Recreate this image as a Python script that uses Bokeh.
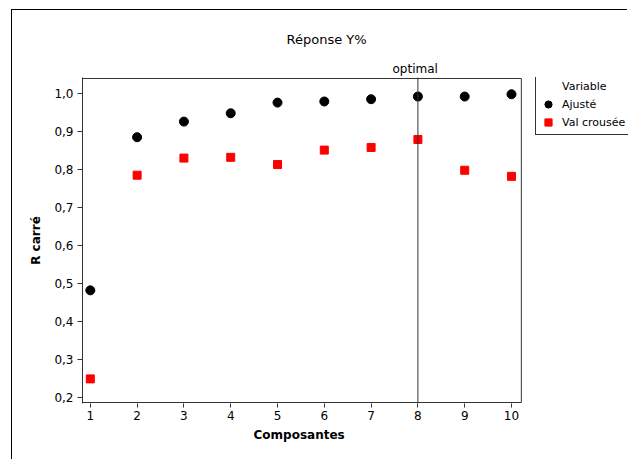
from bokeh.plotting import figure
from bokeh.models import (Range1d, Span, Legend, LegendItem, FixedTicker, Title,
                          BoxAnnotation)
from bokeh.embed import file_html
from bokeh.resources import INLINE

# ---- data ----
composantes = [1, 2, 3, 4, 5, 6, 7, 8, 9, 10]
ajuste = [0.482, 0.885, 0.926, 0.948, 0.976, 0.979, 0.985, 0.992, 0.992, 0.998]
val_croisee = [0.249, 0.785, 0.830, 0.832, 0.813, 0.851, 0.858, 0.879, 0.798, 0.782]
optimal_k = 8
y_ticks = [0.2, 0.3, 0.4, 0.5, 0.6, 0.7, 0.8, 0.9, 1.0]
y_tick_labels = ["0,2", "0,3", "0,4", "0,5", "0,6", "0,7", "0,8", "0,9", "1,0"]
x_ticks = [1, 2, 3, 4, 5, 6, 7, 8, 9, 10]

# axis limits of the visible plot box; the frame is extended right to hold the legend
box_x = (0.833, 10.21)
box_y = (0.1868, 1.0395)
frame_x = (0.833, 12.5)
frame_y = (0.1842, 1.0421)

FONT = "DejaVu Sans"
AX = "#333333"

p = figure(width=616, height=450, output_backend="svg", toolbar_location=None,
           x_range=Range1d(*frame_x), y_range=Range1d(*frame_y),
           min_border_left=70, min_border_right=0, min_border_top=67, min_border_bottom=57,
           background_fill_color="white", border_fill_color="white")
p.styles = {"border-left": "1px solid #000", "border-top": "1px solid #000",
            "margin-left": "11px", "margin-top": "9px"}

p.xgrid.visible = False
p.ygrid.visible = False
p.outline_line_color = None

# plot box
p.add_layout(BoxAnnotation(left=box_x[0], right=box_x[1], bottom=box_y[0], top=box_y[1],
                           fill_alpha=0, line_color=AX, line_alpha=1, line_width=1))

# "optimal" caption just above the frame (nearest above panel)
p.add_layout(Title(text="optimal", align="left", offset=310, standoff=3,
                   text_font=FONT, text_font_size="12px", text_font_style="normal",
                   text_color="black"), "above")

# main title
p.title.text = "Réponse Y%"
p.title.align = "left"
p.title.offset = 204
p.title.standoff = 24
p.title.text_font = FONT
p.title.text_font_size = "13px"
p.title.text_font_style = "normal"
p.title.text_color = "black"

# axes
for ax in (p.xaxis[0], p.yaxis[0]):
    ax.axis_line_color = AX
    ax.major_tick_line_color = AX
    ax.minor_tick_line_color = None
    ax.major_tick_in = 0
    ax.major_label_text_font = FONT
    ax.major_label_text_font_size = "12px"
    ax.major_label_text_color = "black"

p.xaxis.ticker = FixedTicker(ticks=x_ticks)
p.xaxis.axis_line_color = None
p.xaxis.major_tick_out = 4
p.xaxis.major_label_standoff = 3

p.yaxis.ticker = FixedTicker(ticks=y_ticks)
p.yaxis.major_label_overrides = {t: l for t, l in zip(y_ticks, y_tick_labels)}
p.yaxis.major_tick_out = 5
p.yaxis.major_label_standoff = 4
p.yaxis.axis_label = "R carré"
p.yaxis.axis_label_standoff = 8
p.yaxis.axis_label_text_font = FONT
p.yaxis.axis_label_text_font_size = "12px"
p.yaxis.axis_label_text_font_style = "bold"
p.yaxis.axis_label_text_color = "black"

# x axis title, placed under the plot box
p.add_layout(Title(text="Composantes", align="left", offset=171, standoff=7,
                   text_font=FONT, text_font_size="12px", text_font_style="bold",
                   text_color="black"), "below")

# optimal line
p.add_layout(Span(location=optimal_k, dimension="height", line_color=AX, line_width=1))

# data
r_hdr = p.scatter(x=[], y=[], marker="circle", size=1, fill_alpha=0, line_alpha=0)
r_aj = p.scatter(composantes, ajuste, marker="circle", size=9,
                 fill_color="black", line_color="black")
r_vc = p.scatter(composantes, val_croisee, marker="square", size=8,
                 fill_color="#ff0000", line_color="#ff0000")

legend = Legend(items=[LegendItem(label="Variable", renderers=[r_hdr]),
                       LegendItem(label="Ajusté", renderers=[r_aj]),
                       LegendItem(label="Val crousée", renderers=[r_vc])],
                location=(453, 268))
legend.border_line_color = AX
legend.border_line_alpha = 1
legend.border_line_width = 1
legend.background_fill_color = "white"
legend.background_fill_alpha = 1
legend.label_text_font = FONT
legend.label_text_font_size = "11px"
legend.label_text_color = "black"
legend.glyph_width = 18
legend.glyph_height = 18
legend.label_height = 14
legend.label_standoff = 5
legend.spacing = 0
legend.padding = 3
legend.margin = 0
p.add_layout(legend)

open("out.html", "w").write(file_html(p, INLINE))
